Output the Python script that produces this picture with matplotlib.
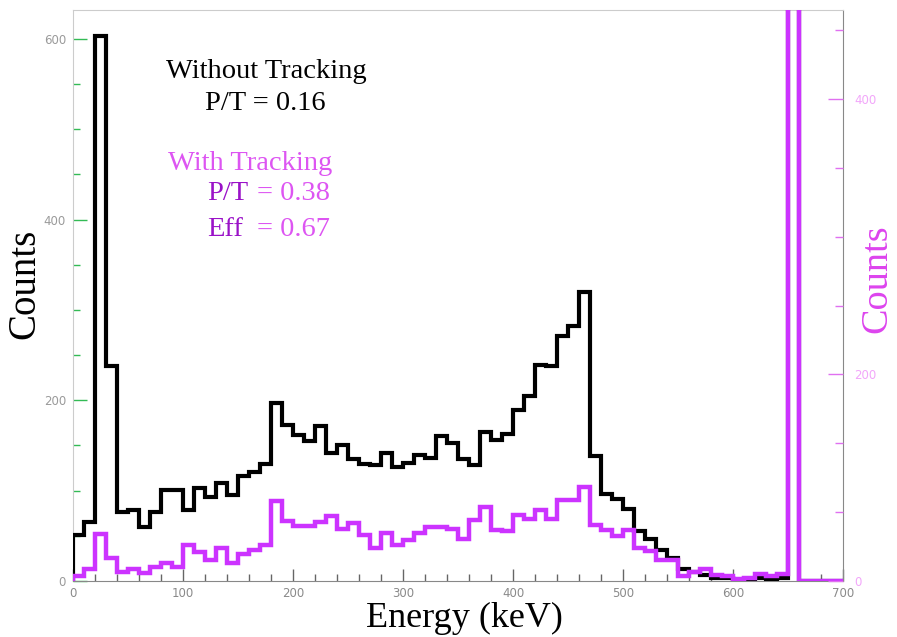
import numpy as np
import matplotlib
matplotlib.use("Agg")
import matplotlib.pyplot as plt
from matplotlib.ticker import FixedLocator, MultipleLocator

# 10 keV bins, 0..700 keV
edges = np.arange(0, 710, 10)

without_tracking = [
    51, 65, 603, 238, 76, 79, 60, 76, 101, 101,
    79, 103, 93, 109, 95, 116, 121, 130, 197, 173,
    162, 155, 172, 142, 151, 135, 130, 128, 142, 126,
    131, 140, 136, 160, 153, 135, 128, 165, 156, 163,
    189, 205, 239, 238, 271, 282, 320, 138, 96, 91,
    80, 55, 47, 34, 25, 13, 10, 7, 3, 3,
    1, 1, 3, 1, 3, 1510, 0, 0, 0, 0,
]
with_tracking = [
    5.5, 13, 52, 25, 10, 13, 8.5, 16, 20, 16,
    40, 32, 23, 36, 20, 30, 34, 40, 89, 66,
    61, 61, 65, 72, 58, 64, 51, 37, 53, 40,
    45, 53, 60, 60, 58, 46, 67, 82, 57, 55,
    73, 69, 79, 69, 90, 90, 104, 62, 57, 50,
    56, 36, 33, 23, 23, 6, 10, 13, 7, 6,
    2, 3, 8, 6, 8, 1665, 0, 0, 0, 0,
]

# right-hand axis: ROOT style ticks, labelled every few divisions
right_step = 76.2
right_labels = {0: "0", 3: "200", 7: "400"}

W, H = 897, 637
serif = "Liberation Serif"
magenta = "#cc33ff"
light_mag = "#dd55f2"
dark_mag = "#9a12c8"

fig = plt.figure(figsize=(W / 100, H / 100), dpi=100)
ax = fig.add_axes([73 / W, 1 - 581 / H, 770 / W, 571 / H])

ax.stairs(without_tracking, edges, color="black", lw=3.0, zorder=3)
ax.stairs(with_tracking, edges, color=magenta, lw=3.2, zorder=4)

ax.set_xlim(0, 700)
ax.set_ylim(0, 632)

ax.xaxis.set_major_locator(MultipleLocator(100))
ax.xaxis.set_minor_locator(MultipleLocator(20))
ax.yaxis.set_major_locator(MultipleLocator(200))
ax.yaxis.set_minor_locator(MultipleLocator(50))

ax.tick_params(axis="x", which="both", direction="in", color="#666666",
               labelcolor="#8a8a8a", labelsize=8.5, top=False, pad=4)
ax.tick_params(axis="x", which="major", length=9, width=1)
ax.tick_params(axis="x", which="minor", length=5, width=1)
ax.tick_params(axis="y", which="both", direction="in", color="#33bb55",
               labelcolor="#9a9a9a", labelsize=8.5, right=False, pad=5)
ax.tick_params(axis="y", which="major", length=10, width=1)
ax.tick_params(axis="y", which="minor", length=5, width=1)

for s in ("left", "top"):
    ax.spines[s].set_color("#cccccc")
ax.spines["bottom"].set_color("#888888")
ax.spines["right"].set_color("#888888")

ax.set_xlabel("Energy (keV)", family=serif, fontsize=26)
ax.xaxis.set_label_coords(0.508, -0.037)
ax.set_ylabel("Counts", family=serif, fontsize=28)
ax.yaxis.set_label_coords(-0.039, 0.52)

ax2 = ax.twinx()
ax2.set_ylim(ax.get_ylim())
ticks = [k * right_step for k in range(9)]
ax2.yaxis.set_minor_locator(FixedLocator(ticks))
ax2.set_yticks([k * right_step for k in right_labels], list(right_labels.values()))
ax2.tick_params(axis="y", which="both", direction="in", color="#e070f0",
                labelcolor="#f2a6fa", labelsize=8.5, pad=8)
ax2.tick_params(axis="y", which="major", length=11, width=1)
ax2.tick_params(axis="y", which="minor", length=6, width=1)
for s in ax2.spines.values():
    s.set_visible(False)
ax2.set_ylabel("Counts", family=serif, fontsize=27.5, color="#dd44ee")
ax2.yaxis.set_label_coords(1.022, 0.53)

def put(x, y, s, c):
    fig.text(x / W, 1 - y / H, s, color=c, family=serif, fontsize=20.5,
             ha="left", va="center")

put(166, 72, "Without Tracking", "black")
put(205, 104, "P/T = 0.16", "black")
put(168, 164, "With Tracking", light_mag)
put(207, 194, "P/T", dark_mag)
put(257, 194, "= 0.38", light_mag)
put(207, 229, "Eff", dark_mag)
put(257, 229, "= 0.67", light_mag)

fig.savefig("out.png", dpi=100)
